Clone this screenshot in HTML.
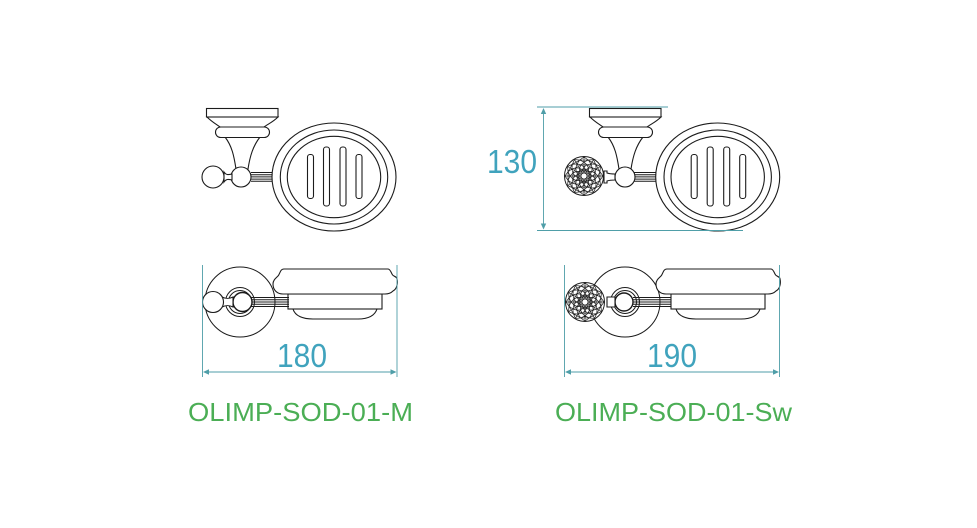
<!DOCTYPE html>
<html><head><meta charset="utf-8"><style>
html,body{margin:0;padding:0;background:#fff}
svg{display:block}
text{font-family:"Liberation Sans",sans-serif}
</style></head><body>
<svg width="977" height="528" viewBox="0 0 977 528" xmlns="http://www.w3.org/2000/svg">
<defs>
<filter id="b" x="-5%" y="-5%" width="110%" height="110%"><feGaussianBlur stdDeviation="0.35"/></filter>
<g id="mount" fill="#fff" stroke="#1a1a1a" stroke-width="1.1">
  <path d="M207 117C212 122 216 124 220 127H264C268 124 273 122 278 117Z"/>
  <rect x="206.500" y="108.500" width="71.500" height="8.500"/>
  <path d="M225 137C232 146 234 156 236 169H248C250 156 253 146 260 137Z"/>
  <rect x="215.500" y="127" width="54" height="10.500" rx="5.200"/>
</g>
<g id="dish" fill="none" stroke="#1a1a1a" stroke-width="1.1">
  <ellipse cx="334" cy="177" rx="62" ry="54" fill="#fff"/>
  <ellipse cx="334" cy="177" rx="53.700" ry="47"/>
  <ellipse cx="334" cy="177" rx="46.700" ry="40.700"/>
  <rect x="307.500" y="154.500" width="6" height="44" rx="2.500"/>
  <rect x="323.500" y="147" width="6" height="59" rx="2.500"/>
  <rect x="340" y="147" width="6" height="59" rx="2.500"/>
  <rect x="356" y="154.500" width="6" height="44" rx="2.500"/>
</g>
<g id="rods" stroke="#1a1a1a" stroke-width="1">
  <path d="M0 0H22M0 2.200H22M0 4.400H22M0 6.600H22M0 8.800H22"/>
</g>
<g id="dishside" fill="#fff" stroke="#1a1a1a" stroke-width="1.1">
  <path d="M20 40C22 47 30 50 40 50H85C96 50 102 46 104 40Z"/>
  <rect x="15" y="25" width="94" height="15"/>
  <path d="M11 0H115C117 0 118 3 119 5C120 8 124 7 124 10C125 14 124 20 120 22C118 24 116 25 112 25H10C4 25 0 21 0 15C0 11 3 9 5 7C7 5 7 0 11 0Z"/>
</g>
<path id="w" d="M0-4L1.680-6.280L0-9L2.980-11.110L0-14L4.270-15.940L0-19M0-4L-1.680-6.280L0-9L-2.980-11.110L0-14L-4.270-15.940L0-19M-1.680-6.280H1.680M-2.980-11.110H2.980M-4.270-15.940H4.270M0-4V-19"/>
<g id="crystal" fill="none" stroke="#1f1f1f" stroke-width="0.7">
  <circle r="19.500" fill="#fff" stroke-width="1"/>
  <circle r="3.200" stroke-width="1.100"/>
  <use href="#w"/><use href="#w" transform="rotate(30)"/><use href="#w" transform="rotate(60)"/>
  <use href="#w" transform="rotate(90)"/><use href="#w" transform="rotate(120)"/><use href="#w" transform="rotate(150)"/>
  <use href="#w" transform="rotate(180)"/><use href="#w" transform="rotate(210)"/><use href="#w" transform="rotate(240)"/>
  <use href="#w" transform="rotate(270)"/><use href="#w" transform="rotate(300)"/><use href="#w" transform="rotate(330)"/>
</g>
</defs>

<g filter="url(#b)">
  <!-- LEFT top view -->
  <use href="#mount"/>
  <use href="#rods" transform="translate(251,172.500)"/>
  <circle cx="241" cy="177" r="10" fill="#fff" stroke="#1a1a1a" stroke-width="1.100"/>
  <path d="M224 172C226 175 228 175 232 174V180C228 179 226 179 224 182Z" fill="#fff" stroke="#1a1a1a" stroke-width="1.100"/>
  <circle cx="213" cy="177" r="11" fill="#fff" stroke="#1a1a1a" stroke-width="1.100"/>
  <use href="#dish"/>

  <!-- RIGHT top view -->
  <use href="#mount" transform="translate(383,0)"/>
  <use href="#rods" transform="translate(634,172.500)"/>
  <circle cx="625" cy="177" r="10" fill="#fff" stroke="#1a1a1a" stroke-width="1.100"/>
  <path d="M604 171H607V173C610 174 612 174 615 174V180C612 180 610 180 607 181V183H604Z" fill="#fff" stroke="#1a1a1a" stroke-width="1.100"/>
  <use href="#crystal" transform="translate(584,176)"/>
  <use href="#dish" transform="translate(383.700,0)"/>

  <!-- LEFT side view -->
  <circle cx="240" cy="302" r="35" fill="#fff" stroke="#1a1a1a" stroke-width="1"/>
  <circle cx="240" cy="302" r="14.500" fill="#fff" stroke="#1a1a1a" stroke-width="1"/>
  <circle cx="240" cy="302" r="11.500" fill="#fff" stroke="#1a1a1a" stroke-width="1"/>
  <use href="#dishside" transform="translate(273,269)"/>
  <g stroke="#1a1a1a" stroke-width="1"><path d="M251 297.500H289M251 299.700H289M251 302H289M251 304.300H289M251 306.500H289"/></g>
  <circle cx="242.500" cy="302" r="9.500" fill="#fff" stroke="#1a1a1a" stroke-width="1.400"/>
  <path d="M222 297C226 299 229 299 233 297V307C229 305 226 305 222 307Z" fill="#fff" stroke="#1a1a1a" stroke-width="1.100"/>
  <circle cx="213" cy="302" r="10.500" fill="#fff" stroke="#1a1a1a" stroke-width="1.100"/>

  <!-- RIGHT side view -->
  <circle cx="625" cy="302" r="35" fill="#fff" stroke="#1a1a1a" stroke-width="1"/>
  <circle cx="625" cy="302" r="14.500" fill="#fff" stroke="#1a1a1a" stroke-width="1"/>
  <circle cx="625" cy="302" r="11.500" fill="#fff" stroke="#1a1a1a" stroke-width="1"/>
  <use href="#dishside" transform="translate(656,269)"/>
  <g stroke="#1a1a1a" stroke-width="1"><path d="M633 297.500H671M633 299.700H671M633 302H671M633 304.300H671M633 306.500H671"/></g>
  <circle cx="624" cy="302" r="9" fill="#fff" stroke="#1a1a1a" stroke-width="1.400"/>
  <path d="M607 297H615V307H607Z" fill="#fff" stroke="#1a1a1a" stroke-width="1.100"/>
  <use href="#crystal" transform="translate(585,302)"/>

  <!-- dimensions -->
  <g stroke="#4f9ea8" stroke-width="0.900" fill="none">
    <path d="M537 107H668M537 230.500H743M543.500 110V228"/>
    <path d="M202.500 265V377M397 265V377M204 372H395"/>
    <path d="M564.500 265V377M779.500 265V377M566 372H778"/>
  </g>
  <g fill="#4f9ea8">
    <path d="M543.500 108L540.800 114H546.200Z"/>
    <path d="M543.500 229.500L540.800 223.500H546.200Z"/>
    <path d="M203 372L209 369.300V374.700Z"/>
    <path d="M396.500 372L390.500 369.300V374.700Z"/>
    <path d="M565 372L571 369.300V374.700Z"/>
    <path d="M779 372L773 369.300V374.700Z"/>
  </g>
  <g fill="#3fa3bd" font-size="33">
    <text x="487" y="173" textLength="50" lengthAdjust="spacingAndGlyphs">130</text>
    <text x="277" y="367" textLength="50" lengthAdjust="spacingAndGlyphs">180</text>
    <text x="647" y="367" textLength="50" lengthAdjust="spacingAndGlyphs">190</text>
  </g>
  <g fill="#4cae55" font-size="26">
    <text x="188" y="421" textLength="225" lengthAdjust="spacingAndGlyphs">OLIMP-SOD-01-M</text>
    <text x="555" y="421" textLength="237" lengthAdjust="spacingAndGlyphs">OLIMP-SOD-01-Sw</text>
  </g>
</g>
</svg>
</body></html>
